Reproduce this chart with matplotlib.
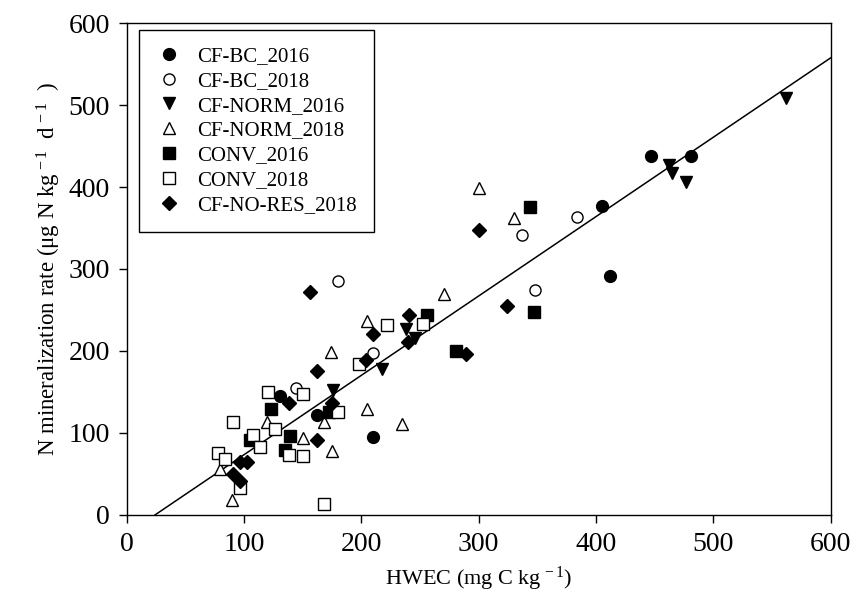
import numpy as np
import matplotlib
matplotlib.use("Agg")
import matplotlib.pyplot as plt

plt.rcParams["font.family"] = ["Liberation Serif", "DejaVu Serif"]
plt.rcParams["mathtext.fontset"] = "custom"
plt.rcParams["mathtext.rm"] = "Liberation Serif"
plt.rcParams["mathtext.it"] = "Liberation Serif:italic"

# HWEC (mg C kg-1) vs N mineralization rate (ug N kg-1 d-1)
cfbc16_x = [446.6, 481.0, 404.8, 412.0, 130.7, 162.0, 209.7]
cfbc16_y = [437.7, 437.7, 376.5, 292.0, 144.5, 122.5, 94.5]

cfbc18_x = [384.0, 336.6, 348.0, 179.8, 210.0, 144.3]
cfbc18_y = [364.0, 342.0, 274.0, 284.8, 198.0, 154.5]

cfnorm16_x = [561.6, 462.5, 464.5, 476.7, 238.0, 245.7, 217.3, 176.0]
cfnorm16_y = [508.0, 426.6, 416.5, 406.0, 227.0, 216.0, 178.5, 153.0]

cfnorm18_x = [300.3, 330.4, 270.7, 204.5, 174.4, 204.5, 234.4, 168.0, 174.7,
              150.0, 119.5, 79.5, 90.0]
cfnorm18_y = [399.0, 362.3, 270.0, 236.5, 199.0, 129.0, 111.0, 113.5, 77.7,
              94.0, 113.7, 55.5, 18.0]

conv16_x = [343.7, 347.0, 256.0, 280.7, 122.7, 105.5, 139.2, 135.0, 172.8]
conv16_y = [375.7, 247.0, 244.0, 199.7, 129.2, 92.0, 96.6, 79.0, 125.5]

conv18_x = [222.2, 252.3, 198.0, 120.5, 150.5, 180.4, 126.4, 108.0, 114.0,
            90.2, 78.0, 83.8, 138.5, 150.3, 96.6, 168.2]
conv18_y = [231.5, 233.0, 183.7, 150.5, 147.5, 125.0, 104.8, 97.0, 83.3,
            112.9, 75.4, 68.0, 73.0, 71.5, 33.4, 13.5]

cfnores18_x = [300.3, 324.0, 289.2, 240.3, 240.0, 209.7, 204.0, 156.2, 162.0,
               138.5, 175.0, 162.0, 96.3, 102.7, 91.0, 96.6]
cfnores18_y = [347.0, 255.0, 196.5, 243.5, 211.5, 220.9, 188.5, 271.5, 175.0,
               137.0, 137.0, 91.2, 64.5, 64.0, 50.0, 41.5]

# regression line as drawn (slope / intercept)
fit_slope = 0.968
fit_intercept = -23.3
fit_x = [24.1, 600.0]

series = [
    ("CF-BC_2016", cfbc16_x, cfbc16_y, "o", "black", 8.5),
    ("CF-BC_2018", cfbc18_x, cfbc18_y, "o", "white", 8.0),
    ("CF-NORM_2016", cfnorm16_x, cfnorm16_y, "v", "black", 9.0),
    ("CF-NORM_2018", cfnorm18_x, cfnorm18_y, "^", "white", 9.0),
    ("CONV_2016", conv16_x, conv16_y, "s", "black", 8.0),
    ("CONV_2018", conv18_x, conv18_y, "s", "white", 8.0),
    ("CF-NO-RES_2018", cfnores18_x, cfnores18_y, "D", "black", 7.5),
]

fig = plt.figure(figsize=(8.59, 6.09), dpi=100)
ax = fig.add_axes([0.1475, 0.1544, 0.8195, 0.8078])

fx = np.array(fit_x)
ax.plot(fx, fit_slope * fx + fit_intercept, color="black", lw=1.1, zorder=1)

for label, xs, ys, mk, fc, ms in series:
    ax.plot(xs, ys, linestyle="none", marker=mk, markersize=ms,
            markerfacecolor=fc, markeredgecolor="black", markeredgewidth=1.0,
            label=label, zorder=3)

ax.set_xlim(0, 600)
ax.set_ylim(0, 600)
ax.set_xticks(np.arange(0, 601, 100))
ax.set_yticks(np.arange(0, 601, 100))
ax.tick_params(direction="out", length=6, width=1, labelsize=20,
               top=False, right=False, pad=6)
for sp in ax.spines.values():
    sp.set_linewidth(1.0)

sup = r"$^{\mathregular{\,-1}}$"
ax.set_xlabel("HWEC (mg C kg" + sup + ")", fontsize=16, labelpad=6)
ax.set_ylabel(r"N mineralization rate ($\mathregular{\mu}$g N kg" + sup
              + "  d" + sup + "  )", fontsize=16.5, labelpad=4)

leg = ax.legend(loc="upper left", bbox_to_anchor=(0.0175, 0.986),
                borderaxespad=0, fancybox=False, edgecolor="black",
                framealpha=1, fontsize=15, labelspacing=0.25,
                handletextpad=0.7, borderpad=0.8, handlelength=1.3,
                markerscale=1.0)
leg.get_frame().set_linewidth(1.0)

fig.savefig("out.png", dpi=100)
